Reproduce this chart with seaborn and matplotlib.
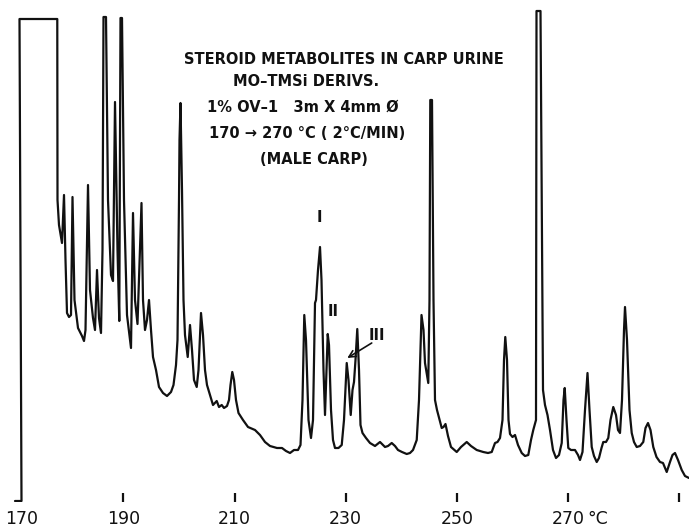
import matplotlib
matplotlib.use("Agg")
import matplotlib.pyplot as plt
import pandas as pd
import seaborn as sns

# Chromatogram trace: column temperature (°C) vs detector response (chart units)
temperature_c = [
    170.47, 171.64, 171.28, 178.08, 178.12, 178.39, 178.93, 179.29, 179.56, 179.83,
    180.19, 180.55, 180.82, 181.18, 181.81, 182.53, 182.89, 183.16, 183.61, 183.97,
    184.51, 184.87, 185.23, 185.59, 185.95, 186.22, 186.40, 186.85, 187.21, 187.75,
    188.11, 188.47, 188.92, 189.24, 189.46, 189.73, 190.09, 190.63, 191.35, 191.71,
    192.07, 192.52, 192.97, 193.24, 193.51, 193.87, 194.23, 194.59, 194.95, 195.31,
    195.85, 196.39, 197.11, 197.83, 198.55, 199.00, 199.45, 199.72, 199.99, 200.08,
    200.26, 200.53, 200.80, 201.07, 201.56, 201.97, 202.33, 202.69, 203.18, 203.50,
    203.95, 204.31, 204.67, 205.03, 205.57, 206.11, 206.78, 207.19, 207.68, 208.09,
    208.63, 208.99, 209.26, 209.58, 209.89, 210.25, 210.70, 211.51, 212.41, 213.67,
    214.57, 215.47, 216.37, 217.63, 218.53, 219.25, 219.97, 220.69, 221.41, 221.86,
    222.22, 222.54, 222.85, 223.30, 223.75, 224.11, 224.47, 224.65, 225.01, 225.37,
    225.64, 226.00, 226.27, 226.54, 226.76, 226.99, 227.35, 227.71, 228.07, 228.70,
    229.28, 229.69, 230.18, 230.50, 230.90, 231.22, 231.49, 231.76, 232.08, 232.39,
    232.66, 233.02, 233.65, 234.37, 235.27, 236.17, 237.07, 237.61, 238.28, 238.87,
    239.41, 240.13, 240.98, 241.57, 242.11, 242.78, 243.19, 243.64, 244.00, 244.27,
    244.63, 244.86, 245.08, 245.22, 245.53, 245.80, 246.07, 246.43, 247.28, 247.60,
    247.96, 248.41, 248.95, 249.98, 250.75, 251.78, 252.55, 253.58, 254.17, 254.76,
    255.61, 256.28, 256.87, 257.32, 257.77, 258.22, 258.49, 258.72, 259.03, 259.30,
    259.57, 260.02, 260.47, 261.01, 261.68, 262.27, 262.86, 263.35, 263.76, 264.25,
    264.34, 265.06, 265.51, 265.87, 266.32, 266.77, 267.31, 267.85, 268.39, 268.88,
    269.20, 269.42, 269.74, 270.06, 270.55, 271.27, 271.81, 272.17, 272.62, 273.07,
    273.52, 273.88, 274.28, 274.69, 275.18, 275.59, 276.04, 276.36, 276.85, 277.26,
    277.66, 278.16, 278.65, 279.01, 279.37, 279.73, 280.09, 280.27, 280.63, 281.08,
    281.48, 281.89, 282.38, 282.97, 283.56, 283.96, 284.41, 284.86, 285.36, 285.94,
    286.57, 287.11, 287.78, 288.37, 288.82, 289.27, 289.81, 290.48, 291.07, 291.79,
]
response = [
    0, 0, 482, 482, 301, 276, 258, 306, 241, 188,
    184, 186, 304, 201, 173, 165, 160, 171, 316, 211,
    183, 171, 231, 183, 168, 251, 484, 484, 301, 226,
    220, 399, 251, 180, 483, 483, 301, 186, 153, 288,
    201, 177, 251, 298, 201, 171, 181, 201, 171, 144,
    131, 114, 108, 105, 109, 116, 136, 161, 301, 361,
    398, 311, 201, 166, 144, 176, 151, 121, 114, 131,
    188, 166, 131, 116, 106, 96, 100, 94, 96, 93,
    95, 101, 116, 129, 121, 101, 88, 81, 74, 71,
    66, 59, 55, 53, 53, 50, 48, 51, 51, 56,
    101, 186, 161, 81, 63, 81, 198, 201, 231, 254,
    221, 131, 86, 131, 167, 156, 91, 61, 53, 53,
    56, 81, 138, 121, 86, 111, 119, 141, 172, 131,
    76, 68, 63, 58, 55, 59, 54, 55, 58, 55,
    51, 49, 47, 48, 51, 61, 101, 186, 171, 138,
    126, 118, 201, 401, 401, 201, 101, 91, 73, 74,
    77, 65, 54, 49, 54, 59, 55, 51, 50, 49,
    48, 49, 58, 59, 63, 81, 141, 164, 141, 81,
    67, 64, 66, 56, 48, 45, 46, 61, 71, 81,
    490, 490, 111, 96, 86, 71, 51, 43, 46, 58,
    101, 113, 81, 53, 51, 51, 46, 41, 49, 91,
    128, 91, 54, 45, 39, 43, 53, 59, 59, 63,
    81, 94, 86, 71, 68, 101, 171, 194, 161, 91,
    68, 59, 54, 55, 59, 73, 78, 71, 54, 44,
    39, 38, 29, 39, 46, 48, 41, 31, 25, 23,
]

tick_temps = [171.6, 190, 210, 230, 250, 270, 290]
tick_labels = ["170", "190", "210", "230", "250", "270", ""]
unit_label = "°C"

title_lines = [
    "STEROID METABOLITES IN CARP URINE",
    "MO–TMSi DERIVS.",
    "1% OV–1   3m X 4mm Ø",
    "170 → 270 °C ( 2°C/MIN)",
    "(MALE CARP)",
]
title_x = [229.7, 222.9, 222.3, 223.1, 224.3]
title_y = [442, 420, 394, 368, 341]

peak_names = ["I", "II", "III"]
peak_x = [225.24, 227.80, 235.54]
peak_y = [284, 189, 165]
arrow_tail = (234.68, 158)
arrow_head = (230.28, 143)

sns.set_theme(style="white")
plt.rcParams["font.family"] = ["DejaVu Sans"]

fig = plt.figure(figsize=(6.89, 5.27), dpi=100)
fig.patch.set_facecolor("white")
ax = fig.add_axes([0, 25 / 527, 1, 502 / 527])
ax.set_facecolor("white")

df = pd.DataFrame({"temp": temperature_c, "resp": response})
sns.lineplot(data=df, x="temp", y="resp", sort=False, estimator=None,
             color="#111111", linewidth=1.6, ax=ax)

ax.set_xlim(167.77, 291.79)
ax.set_ylim(-1, 501)
for s in ax.spines.values():
    s.set_visible(False)
ax.set_yticks([])
ax.set_xlabel("")
ax.set_ylabel("")
ax.set_xticks(tick_temps)
ax.set_xticklabels(tick_labels, fontsize=12.5, family=["Liberation Sans Narrow", "DejaVu Sans"])
ax.tick_params(axis="x", bottom=True, direction="in", length=6.5, width=1.6,
               color="#111111", pad=5.5, labelcolor="#111111")
ax.xaxis.get_major_ticks()[0].tick1line.set_visible(False)
ax.text(273.5, -8.6, unit_label, fontsize=12.5, ha="left", va="top",
        family=["Liberation Sans Narrow", "DejaVu Sans"], color="#111111")

for line, x, y in zip(title_lines, title_x, title_y):
    ax.text(x, y, line, ha="center", va="center", fontsize=10.5,
            fontweight="semibold", color="#111111")

for name, x, y in zip(peak_names, peak_x, peak_y):
    ax.text(x, y, name, ha="center", va="center", fontsize=10.5,
            fontweight="bold", color="#111111")
ax.annotate("", xy=arrow_head, xytext=arrow_tail,
            arrowprops=dict(arrowstyle="->", lw=1.2, color="#111111",
                            shrinkA=0, shrinkB=0))

fig.savefig("out.png", dpi=100, facecolor="white")
